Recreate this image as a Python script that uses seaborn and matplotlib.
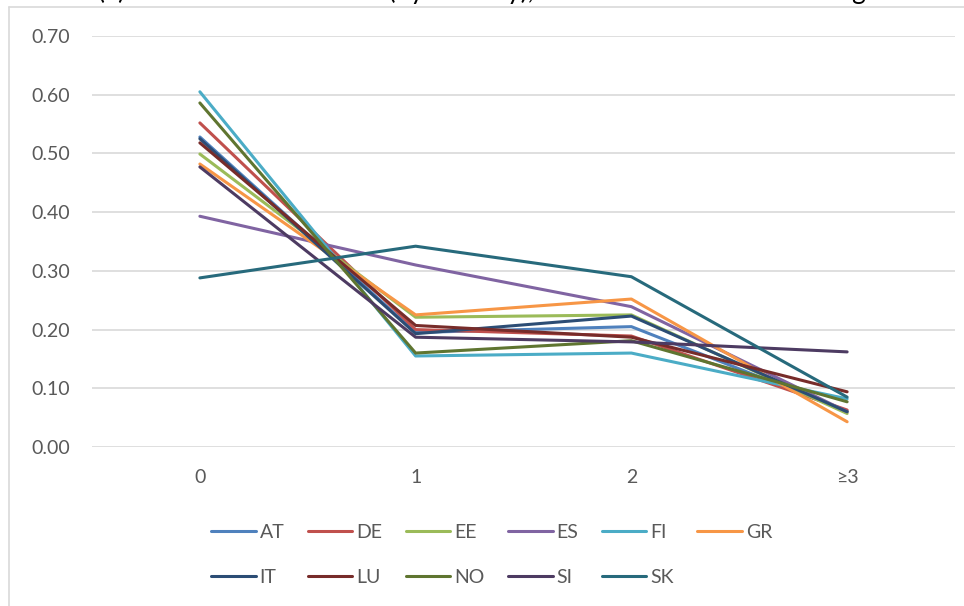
import pandas as pd
import seaborn as sns
import matplotlib.pyplot as plt
from matplotlib.lines import Line2D

## values
categories = ['0', '1', '2', '≥3']
countries = ['AT', 'DE', 'EE', 'ES', 'FI', 'GR', 'IT', 'LU', 'NO', 'SI', 'SK']

AT = [0.528, 0.195, 0.205, 0.061]
DE = [0.552, 0.200, 0.189, 0.063]
EE = [0.499, 0.221, 0.225, 0.057]
ES = [0.393, 0.310, 0.239, 0.060]
FI = [0.605, 0.155, 0.160, 0.082]
GR = [0.482, 0.225, 0.252, 0.043]
IT = [0.525, 0.193, 0.223, 0.060]
LU = [0.518, 0.207, 0.187, 0.094]
NO = [0.586, 0.160, 0.181, 0.077]
SI = [0.477, 0.187, 0.179, 0.162]
SK = [0.288, 0.342, 0.290, 0.085]

colors = ['#4F81BD', '#C0504D', '#9BBB59', '#8064A2', '#4BACC6', '#F79646',
          '#2C4D75', '#772C2A', '#5F7530', '#4D3B62', '#276A7C']

title = '(a) Number of loans held (by country), share of households holding'

series = [AT, DE, EE, ES, FI, GR, IT, LU, NO, SI, SK]
rows = []
for c, vals in zip(countries, series):
    for cat, v in zip(categories, vals):
        rows.append({'country': c, 'category': cat, 'share': v})
df = pd.DataFrame(rows)
df['pos'] = df['category'].map({k: i for i, k in enumerate(categories)})

sns.set_style('white')
plt.rcParams['font.family'] = ['Lato', 'DejaVu Sans']
txt = '#595959'

fig = plt.figure(figsize=(9.64, 6.06), dpi=100)
ax = fig.add_axes([92/964, 1 - 447/606, 863/964, 411/606])

sns.lineplot(data=df, x='pos', y='share', hue='country', hue_order=countries,
             palette=colors, linewidth=2.2, sort=False, ax=ax, legend=False)

ax.set_xlim(-0.5, 3.5)
ax.set_ylim(0, 0.7)
ax.set_yticks([i / 10 for i in range(8)])
ax.set_yticklabels([f'{i / 10:.2f}' for i in range(8)])
ax.set_xticks(range(len(categories)))
ax.set_xticklabels(categories)
ax.set_xlabel('')
ax.set_ylabel('')
ax.grid(axis='y', color='#d9d9d9', linewidth=1.2)
ax.set_axisbelow(True)
for s in ax.spines.values():
    s.set_visible(False)
ax.tick_params(axis='y', length=0, pad=16, labelsize=14, labelcolor=txt)
ax.tick_params(axis='x', length=0, pad=16, labelsize=14, labelcolor=txt)

## legend reads row by row: reorder since matplotlib fills columns first
handles = {c: Line2D([], [], color=col, linewidth=2.2) for c, col in zip(countries, colors)}
order = ['AT', 'IT', 'DE', 'LU', 'EE', 'NO', 'ES', 'SI', 'FI', 'SK', 'GR']
fig.legend([handles[c] for c in order], order, ncol=6, loc='upper left',
           bbox_to_anchor=(211/964, 1 - 524/606), frameon=False,
           fontsize=14, labelcolor=txt, handlelength=2.3, handletextpad=0.2,
           columnspacing=1.2, labelspacing=1.45, borderpad=0, borderaxespad=0)

## chart frame, cut off at right and bottom
fig.add_artist(Line2D([9/964, 9/964], [0, 1 - 7/606], color='#d9d9d9',
                      linewidth=1.2, transform=fig.transFigure))
fig.add_artist(Line2D([9/964, 1], [1 - 7/606, 1 - 7/606], color='#d9d9d9',
                      linewidth=1.2, transform=fig.transFigure))

## title is cropped in the reference, only its lower edge shows
fig.text(0.5, 1 + 1/606, title, ha='center', va='baseline', fontsize=19, color='black')

fig.savefig('out.png', dpi=100)
